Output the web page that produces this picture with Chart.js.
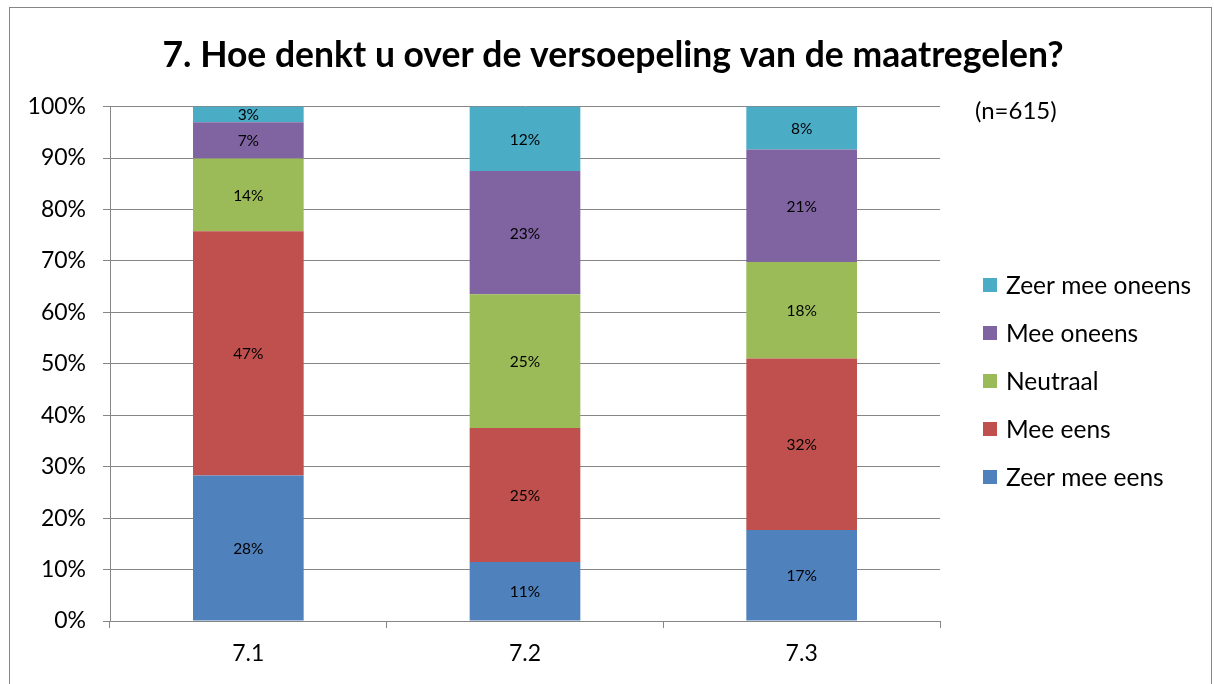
<!DOCTYPE html>
<html>
<head>
<meta charset="utf-8">
<script src="https://cdn.jsdelivr.net/npm/chart.js@4/dist/chart.umd.min.js"></script>
<style>
  html, body { margin: 0; padding: 0; background: #fff; }
  canvas { display: block; }
</style>
</head>
<body>
<canvas id="chart" width="1214" height="684"></canvas>
<script>
const categories = ["7.1", "7.2", "7.3"];
const zeerMeeEens = [28, 11, 17];
const meeEens = [47, 25, 32];
const neutraal = [14, 25, 18];
const meeOneens = [7, 23, 21];
const zeerMeeOneens = [3, 12, 8];
const yTicks = [0, 10, 20, 30, 40, 50, 60, 70, 80, 90, 100];
const sampleNote = "(n=615)";

const FONT = "Lato, 'Open Sans', sans-serif";
const GRID = "#868686";

const series = [
  { label: "Zeer mee eens", values: zeerMeeEens, color: "#4F81BD" },
  { label: "Mee eens", values: meeEens, color: "#C0504D" },
  { label: "Neutraal", values: neutraal, color: "#9BBB59" },
  { label: "Mee oneens", values: meeOneens, color: "#8064A2" },
  { label: "Zeer mee oneens", values: zeerMeeOneens, color: "#4BACC6" }
];

// 100% stacked: each column is scaled to its own total
const totals = categories.map((_, i) =>
  series.reduce((s, d) => s + d.values[i], 0)
);

const datasets = series.map(s => ({
  label: s.label,
  data: s.values.map((v, i) => v / totals[i] * 100),
  raw: s.values,
  backgroundColor: s.color,
  borderWidth: 0,
  barPercentage: 0.4,
  categoryPercentage: 1
}));

// outer frame
const framePlugin = {
  id: "frame",
  beforeDraw(chart) {
    const ctx = chart.ctx;
    ctx.save();
    ctx.strokeStyle = GRID;
    ctx.lineWidth = 1;
    ctx.strokeRect(9.5, 7.5, 1202, 700);
    ctx.restore();
  }
};

// percentage labels inside segments
const segmentLabels = {
  id: "segmentLabels",
  afterDatasetsDraw(chart) {
    const ctx = chart.ctx;
    ctx.save();
    ctx.font = "15.5px " + FONT;
    ctx.fillStyle = "#000";
    ctx.textAlign = "center";
    ctx.textBaseline = "middle";
    chart.data.datasets.forEach((ds, di) => {
      chart.getDatasetMeta(di).data.forEach((bar, i) => {
        const mid = (bar.y + bar.base) / 2;
        ctx.fillText(ds.raw[i] + "%", bar.x, mid + 1);
      });
    });
    ctx.restore();
  }
};

// legend on the right, top entry = last series
const sideLegend = {
  id: "sideLegend",
  afterDraw(chart) {
    const ctx = chart.ctx;
    ctx.save();
    ctx.textBaseline = "middle";
    ctx.fillStyle = "#000";
    ctx.font = "24px " + FONT;
    ctx.fillText(sampleNote, 975, 111);

    ctx.font = "24.5px " + FONT;
    const list = chart.data.datasets.slice().reverse();
    list.forEach((ds, k) => {
      const y = 285 + k * 48;
      ctx.fillStyle = ds.backgroundColor;
      ctx.fillRect(983, y - 7, 14, 14);
      ctx.fillStyle = "#000";
      ctx.fillText(ds.label, 1006, y + 1);
    });
    ctx.restore();
  }
};

new Chart(document.getElementById("chart"), {
  type: "bar",
  data: { labels: categories, datasets: datasets },
  plugins: [framePlugin, segmentLabels, sideLegend],
  options: {
    responsive: false,
    animation: false,
    layout: { padding: { left: 12, right: 0, top: 0, bottom: 0 } },
    plugins: {
      legend: { display: false },
      tooltip: { enabled: false },
      title: {
        display: true,
        text: "7. Hoe denkt u over de versoepeling van de maatregelen?",
        color: "#000",
        font: { family: FONT, size: 35.5, weight: "bold", lineHeight: 1.2 },
        padding: { top: 34, bottom: 30 }
      }
    },
    scales: {
      x: {
        stacked: true,
        afterFit(scale) { scale.height = 63; },
        border: { color: GRID, width: 1 },
        grid: {
          offset: true,
          drawOnChartArea: false,
          drawTicks: true,
          tickLength: 7,
          color: GRID
        },
        ticks: {
          color: "#000",
          font: { family: FONT, size: 23 },
          padding: 12
        }
      },
      y: {
        stacked: true,
        min: 0,
        max: 100,
        afterFit(scale) { scale.width = 98; },
        afterBuildTicks(scale) {
          scale.ticks = yTicks.map(v => ({ value: v }));
        },
        border: { color: GRID, width: 1 },
        grid: { color: GRID, tickLength: 7, lineWidth: 1 },
        ticks: {
          color: "#000",
          font: { family: FONT, size: 23 },
          padding: 17,
          callback: v => v + "%"
        }
      },
      // empty right-hand band that holds the legend area
      side: {
        position: "right",
        display: true,
        afterFit(scale) { scale.width = 274; },
        border: { display: false },
        grid: { display: false, drawTicks: false },
        ticks: { display: false }
      }
    }
  }
});
</script>
</body>
</html>
